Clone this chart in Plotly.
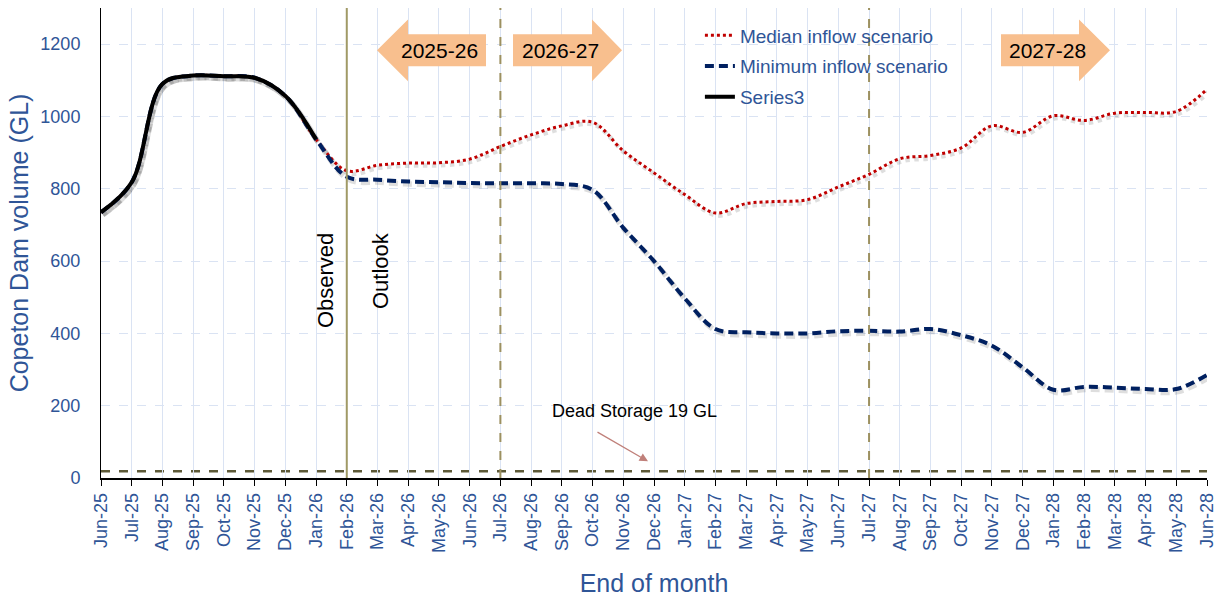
import plotly.graph_objects as go

months = ["Jun-25","Jul-25","Aug-25","Sep-25","Oct-25","Nov-25","Dec-25","Jan-26",
          "Feb-26","Mar-26","Apr-26","May-26","Jun-26","Jul-26","Aug-26","Sep-26",
          "Oct-26","Nov-26","Dec-26","Jan-27","Feb-27","Mar-27","Apr-27","May-27",
          "Jun-27","Jul-27","Aug-27","Sep-27","Oct-27","Nov-27","Dec-27","Jan-28",
          "Feb-28","Mar-28","Apr-28","May-28","Jun-28"]

observed = [735, 818, 1090, 1113, 1111, 1107, 1057, 937]

median_outlook = [850, 865, 871, 872, 882, 917, 949, 974, 984, 905, 844, 784, 733,
                  759, 765, 770, 805, 840, 883, 892, 913, 974, 956, 1002, 989,
                  1009, 1011, 1014, 1075]

minimum_outlook = [833, 825, 820, 818, 816, 815, 815, 813, 797, 692, 600, 497, 412,
                   403, 400, 400, 406, 407, 405, 412, 395, 366, 306, 244, 252,
                   250, 246, 246, 285]

median = observed + median_outlook
minimum = observed + minimum_outlook
dead_storage = 19

x = list(range(len(months)))
x_obs = x[:len(observed)]

FONT = "Liberation Sans, Arial, sans-serif"
BLUE_TXT = "#2F5597"
NAVY = "#002060"
RED = "#C00000"
GRID = "#DAE3F3"
OLIVE = "#9C9060"
ORANGE = "#F8BF8E"

# pixel helpers for decorations (plot area: x 101..1207, y 0 at 478.7, 1300 at 8.1)
PX0, PXW = 101.0, (1207.0 - 101.0) / 36.0
PY0, PYS = 478.7, (478.7 - 8.1) / 1300.0
def dx(px): return (px - PX0) / PXW
def dy(py): return (PY0 - py) / PYS

fig = go.Figure()

# soft shadows
sx, sy = 0.06, -7
for ys, xs, w, dash in [(median, x, 3, "dot"), (minimum, x, 4, "9px,5px"), (observed, x_obs, 4, "solid")]:
    fig.add_trace(go.Scatter(x=[v + sx for v in xs], y=[v + sy for v in ys], mode="lines",
                             line=dict(color="rgba(0,0,0,0.13)", width=w + 1.5, shape="spline", dash=dash),
                             showlegend=False, hoverinfo="skip"))

fig.add_trace(go.Scatter(x=x, y=median, mode="lines", name="Median inflow scenario",
                         legendgroup="a",
                         line=dict(color=RED, width=3, dash="dot", shape="spline")))
fig.add_trace(go.Scatter(x=x, y=minimum, mode="lines", name="Minimum inflow scenario",
                         legendgroup="b",
                         line=dict(color=NAVY, width=4, dash="9px,5px", shape="spline")))
fig.add_trace(go.Scatter(x=x_obs, y=observed, mode="lines", name="Series3",
                         legendgroup="c",
                         line=dict(color="black", width=4, shape="spline")))

shapes = []
# dead storage
shapes.append(dict(type="line", xref="paper", x0=0, x1=1, yref="y", y0=dead_storage, y1=dead_storage,
                   line=dict(color="#5E5A38", width=2.5, dash="dash"), layer="below"))
# observed / outlook divider
shapes.append(dict(type="line", xref="x", x0=8, x1=8, yref="paper", y0=0, y1=1,
                   line=dict(color="#A09A66", width=2)))
for xv in (13, 25):
    shapes.append(dict(type="line", xref="x", x0=xv, x1=xv, yref="paper", y0=0, y1=1,
                       line=dict(color=OLIVE, width=2, dash="dash")))

def arrow_path(points):
    return "M " + " L ".join(f"{dx(px)},{dy(py)}" for px, py in points) + " Z"

left = [(377, 50.5), (408, 19.5), (408, 34.5), (486, 34.5), (486, 66.5), (408, 66.5), (408, 81.5)]
right1 = [(513, 34.5), (592, 34.5), (592, 19.5), (622, 50.5), (592, 81.5), (592, 66.5), (513, 66.5)]
right2 = [(1001, 34.5), (1079, 34.5), (1079, 19.5), (1110, 50.5), (1079, 81.5), (1079, 66.5), (1001, 66.5)]
for pts in (left, right1, right2):
    shapes.append(dict(type="path", xref="x", yref="y", path=arrow_path(pts),
                       fillcolor=ORANGE, line=dict(width=0)))

annotations = [
    dict(x=dx(439), y=dy(51), text="2025-26", showarrow=False, font=dict(size=21, color="black", family=FONT)),
    dict(x=dx(560), y=dy(51), text="2026-27", showarrow=False, font=dict(size=21, color="black", family=FONT)),
    dict(x=dx(1047), y=dy(51), text="2027-28", showarrow=False, font=dict(size=21, color="black", family=FONT)),
    dict(x=dx(325), y=dy(281.5), text="Observed", textangle=-90, showarrow=False,
         font=dict(size=22, color="black", family=FONT)),
    dict(x=dx(380), y=dy(271.5), text="Outlook", textangle=-90, showarrow=False,
         font=dict(size=22, color="black", family=FONT)),
    dict(x=dx(634), y=dy(412), text="Dead Storage 19 GL", showarrow=False,
         font=dict(size=18, color="black", family=FONT)),
    dict(x=dx(648), y=dy(462), ax=-52, ay=-30, text="", showarrow=True, arrowhead=2,
         arrowsize=1.3, arrowwidth=1.3, arrowcolor="#C0807A"),
]

fig.update_layout(
    width=1218, height=597,
    margin=dict(l=101, r=11, t=8, b=119),
    paper_bgcolor="white", plot_bgcolor="white",
    font=dict(family=FONT, color=BLUE_TXT),
    shapes=shapes, annotations=annotations,
    legend=dict(x=0.5415, y=0.982, xanchor="left", yanchor="top", bgcolor="rgba(0,0,0,0)",
                font=dict(size=19, color=BLUE_TXT, family=FONT), tracegroupgap=3),
    xaxis=dict(range=[0, 36], tickmode="array", tickvals=x, ticktext=months, tickangle=-90,
               tickfont=dict(size=18, color=BLUE_TXT, family=FONT), automargin=False,
               showgrid=True, gridcolor=GRID, gridwidth=1,
               showline=True, linecolor="black", linewidth=1.5,
               ticks="outside", ticklen=6, tickcolor="black", zeroline=False,
               title=dict(text="End of month", font=dict(size=25, color=BLUE_TXT, family=FONT), standoff=23)),
    yaxis=dict(range=[0, 1300], tickmode="array", tickvals=[0, 200, 400, 600, 800, 1000, 1200],
               tickfont=dict(size=18, color=BLUE_TXT, family=FONT), automargin=False,
               ticklabelstandoff=16,
               showgrid=True, gridcolor=GRID, gridwidth=1, griddash="dash",
               showline=True, linecolor="black", linewidth=1, zeroline=False, ticks="",
               title=dict(text="Copeton Dam volume (GL)", font=dict(size=25, color=BLUE_TXT, family=FONT), standoff=4)),
)

fig.write_html("out.html", config={"displayModeBar": False},
               post_script="document.body.style.margin='0';document.body.style.overflow='hidden';")
